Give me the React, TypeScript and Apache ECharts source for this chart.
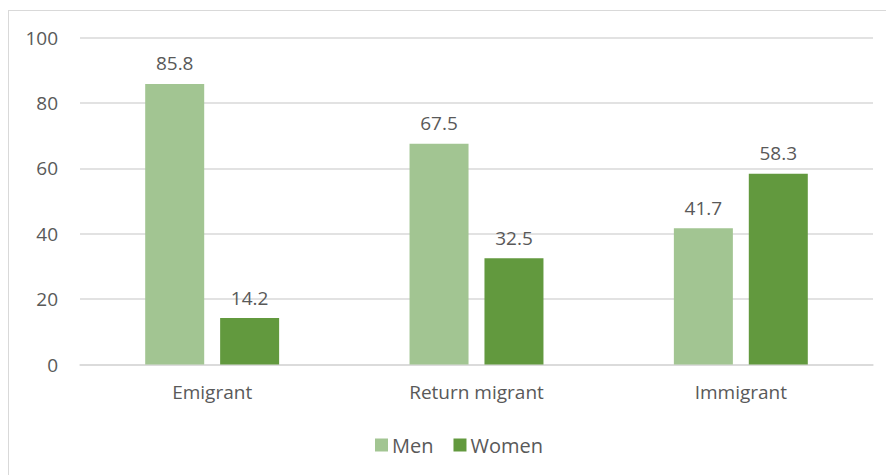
import React, { useEffect, useRef } from "react";
import * as echarts from "echarts";

const categories = ["Emigrant", "Return migrant", "Immigrant"];
const menValues = [85.8, 67.5, 41.7];
const womenValues = [14.2, 32.5, 58.3];
const seriesNames = ["Men", "Women"];

const FONT = "'Open Sans', 'Noto Sans', sans-serif";
const TEXT = "#595959";
const SIZE = 19;

export default function App() {
  const ref = useRef<HTMLDivElement>(null);

  useEffect(() => {
    if (!ref.current) return;
    const chart = echarts.init(ref.current, null, { renderer: "svg" });
    const label = {
      show: true,
      position: "top" as const,
      distance: 11,
      color: TEXT,
      fontFamily: FONT,
      fontSize: SIZE,
      formatter: (p: any) => Number(p.value).toFixed(1),
    };
    chart.setOption({
      animation: false,
      textStyle: { fontFamily: FONT },
      graphic: [
        { type: "line", shape: { x1: 8, y1: 10.5, x2: 886, y2: 10.5 }, style: { stroke: "#d9d9d9", lineWidth: 1 } },
        { type: "line", shape: { x1: 8.5, y1: 10, x2: 8.5, y2: 475 }, style: { stroke: "#d9d9d9", lineWidth: 1 } },
      ],
      grid: { left: 80, right: 13, top: 37.5, bottom: 110.5, containLabel: false },
      legend: {
        data: seriesNames,
        bottom: 15,
        left: 370,
        itemWidth: 13,
        itemHeight: 13,
        itemGap: 20,
        icon: "rect",
        textStyle: { color: TEXT, fontFamily: FONT, fontSize: 20, padding: [0, 0, 0, -1] },
      },
      xAxis: {
        type: "category",
        data: categories,
        axisLine: { lineStyle: { color: "#d9d9d9", width: 1.5 } },
        axisTick: { show: false },
        axisLabel: { color: TEXT, fontFamily: FONT, fontSize: SIZE, margin: 18 },
      },
      yAxis: {
        type: "value",
        min: 0,
        max: 100,
        interval: 20,
        axisLine: { show: false },
        axisTick: { show: false },
        splitLine: { lineStyle: { color: "#d9d9d9", width: 1.5 } },
        axisLabel: { color: TEXT, fontFamily: FONT, fontSize: SIZE, margin: 22 },
      },
      series: [
        {
          name: seriesNames[0],
          type: "bar",
          data: menValues,
          barWidth: 59,
          barGap: "27%",
          itemStyle: { color: "#a2c592" },
          label,
        },
        {
          name: seriesNames[1],
          type: "bar",
          data: womenValues,
          barWidth: 59,
          itemStyle: { color: "#62993e" },
          label,
        },
      ],
    });
    return () => chart.dispose();
  }, []);

  return (
    <div
      ref={ref}
      style={{ position: "fixed", left: 0, top: 0, width: 886, height: 475, background: "#fff" }}
    />
  );
}
